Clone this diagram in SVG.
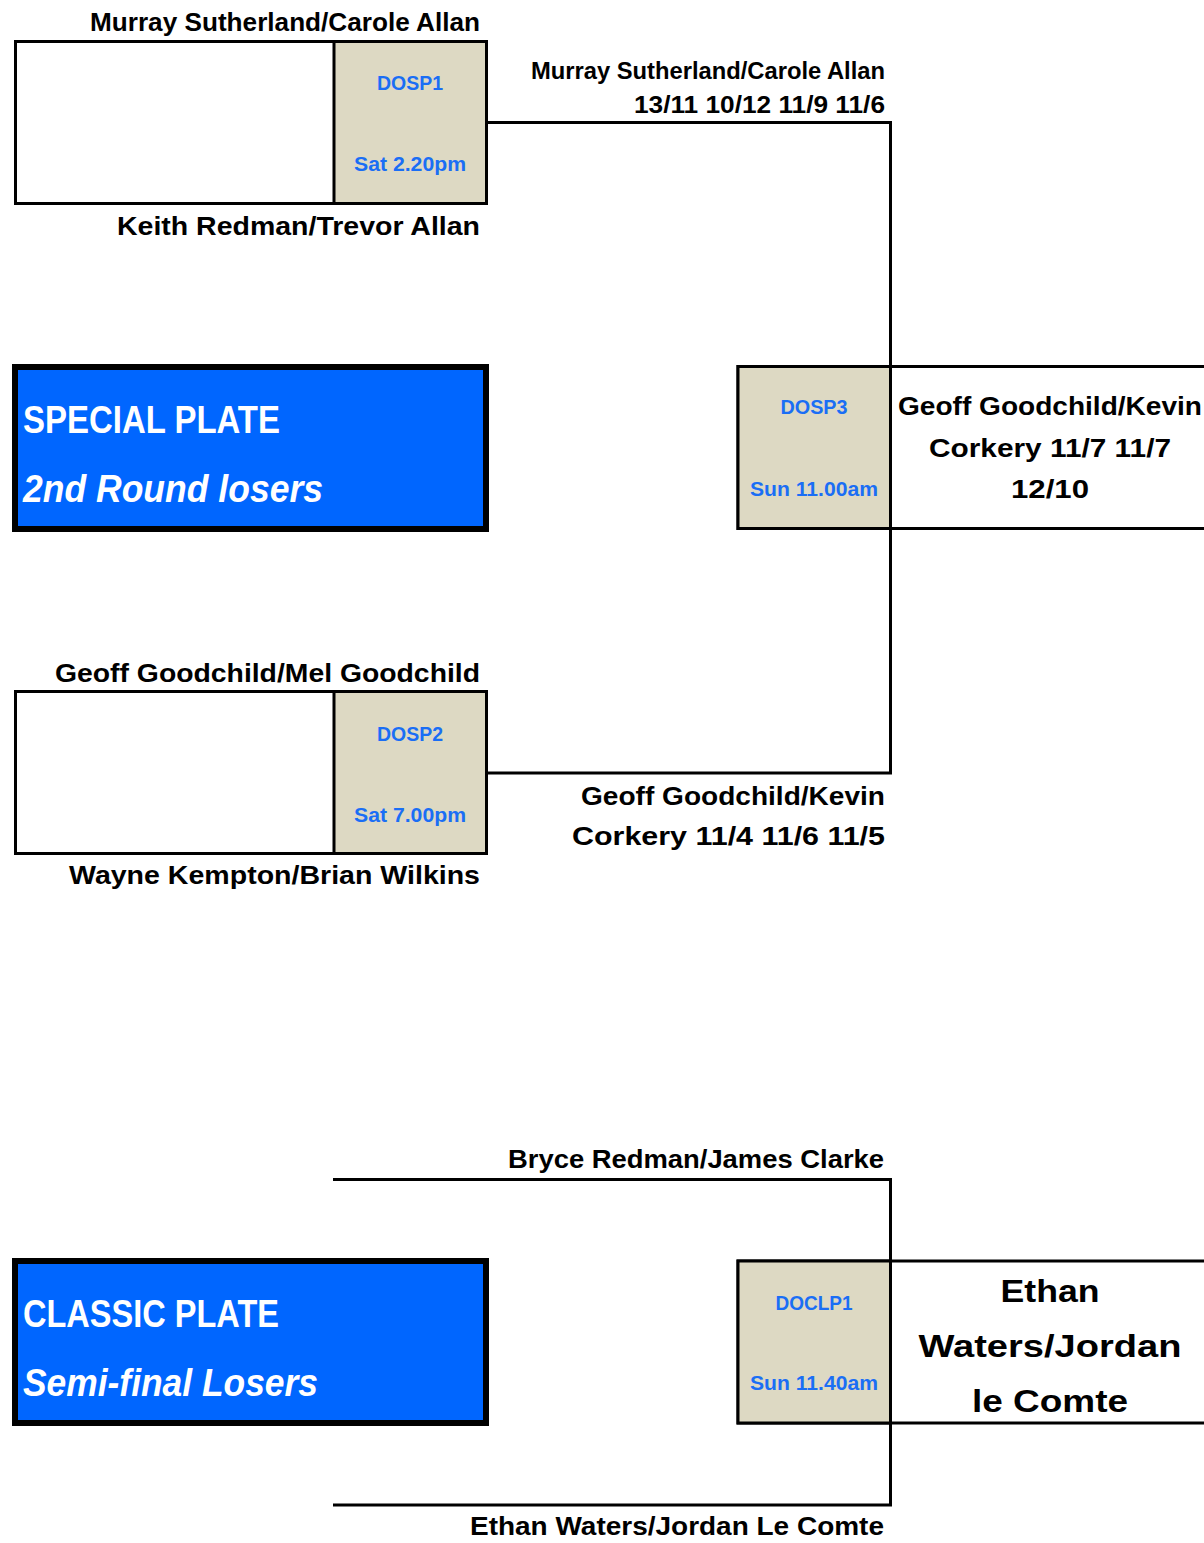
<svg xmlns="http://www.w3.org/2000/svg" width="1204" height="1543" viewBox="0 0 1204 1543">
<style>
text{font-family:"Liberation Sans",Arial,sans-serif;font-weight:bold;fill:#000}
.lbl{font-size:26px}
.res{font-size:23.5px}
.code{font-size:21px;fill:#1a6ef5}
.win{font-size:26px}
.big{font-size:32px}
.plate{font-size:38px;fill:#fff}
.it{font-style:italic}
.box{fill:#fff;stroke:#000;stroke-width:3}
.tan{fill:#ddd9c3;stroke:#000;stroke-width:3}
.blue{fill:#0066ff;stroke:#000;stroke-width:6}
.conn{fill:none;stroke:#000;stroke-width:3}
</style>
<rect width="1204" height="1543" fill="#fff"/>
<g id="connectors">
<polyline class="conn" points="487,122.5 890.5,122.5 890.5,367"/>
<polyline class="conn" points="890.5,529 890.5,773 487,773"/>
<polyline class="conn" points="333,1179.5 890.5,1179.5 890.5,1261"/>
<polyline class="conn" points="890.5,1422 890.5,1505 333,1505"/>
</g>
<g id="DOSP1">
<rect class="box" x="15.5" y="41.5" width="471" height="162"/>
<rect class="tan" x="334" y="41.5" width="152.5" height="162"/>
<text class="code" x="410" y="90" text-anchor="middle" textLength="66" lengthAdjust="spacingAndGlyphs">DOSP1</text>
<text class="code" x="410" y="171" text-anchor="middle" textLength="112" lengthAdjust="spacingAndGlyphs">Sat 2.20pm</text>
<text class="lbl" x="480" y="31" text-anchor="end" textLength="390" lengthAdjust="spacingAndGlyphs">Murray Sutherland/Carole Allan</text>
<text class="lbl" x="480" y="235" text-anchor="end" textLength="363" lengthAdjust="spacingAndGlyphs">Keith Redman/Trevor Allan</text>
</g>
<g id="DOSP1-result">
<text class="res" x="885" y="79" text-anchor="end" textLength="354" lengthAdjust="spacingAndGlyphs">Murray Sutherland/Carole Allan</text>
<text class="res" x="885" y="113" text-anchor="end" textLength="251" lengthAdjust="spacingAndGlyphs">13/11 10/12 11/9 11/6</text>
</g>
<g id="special-plate">
<rect class="blue" x="15" y="367" width="471" height="162"/>
<text class="plate" x="23" y="433" textLength="257" lengthAdjust="spacingAndGlyphs">SPECIAL PLATE</text>
<text class="plate it" x="23" y="502" textLength="300" lengthAdjust="spacingAndGlyphs">2nd Round losers</text>
</g>
<g id="DOSP3">
<rect class="box" x="738" y="366.5" width="480" height="162"/>
<rect class="tan" x="738" y="366.5" width="152.5" height="162"/>
<text class="code" x="814" y="414" text-anchor="middle" textLength="67" lengthAdjust="spacingAndGlyphs">DOSP3</text>
<text class="code" x="814" y="496" text-anchor="middle" textLength="128" lengthAdjust="spacingAndGlyphs">Sun 11.00am</text>
<text class="win" x="1050" y="415" text-anchor="middle" textLength="304" lengthAdjust="spacingAndGlyphs">Geoff Goodchild/Kevin</text>
<text class="win" x="1050" y="457" text-anchor="middle" textLength="242" lengthAdjust="spacingAndGlyphs">Corkery 11/7 11/7</text>
<text class="win" x="1050" y="498" text-anchor="middle" textLength="78" lengthAdjust="spacingAndGlyphs">12/10</text>
</g>
<g id="DOSP2">
<rect class="box" x="15.5" y="691.5" width="471" height="162"/>
<rect class="tan" x="334" y="691.5" width="152.5" height="162"/>
<text class="code" x="410" y="741" text-anchor="middle" textLength="66" lengthAdjust="spacingAndGlyphs">DOSP2</text>
<text class="code" x="410" y="822" text-anchor="middle" textLength="112" lengthAdjust="spacingAndGlyphs">Sat 7.00pm</text>
<text class="lbl" x="480" y="682" text-anchor="end" textLength="425" lengthAdjust="spacingAndGlyphs">Geoff Goodchild/Mel Goodchild</text>
<text class="lbl" x="480" y="884" text-anchor="end" textLength="411" lengthAdjust="spacingAndGlyphs">Wayne Kempton/Brian Wilkins</text>
</g>
<g id="DOSP2-result">
<text class="win" x="885" y="805" text-anchor="end" textLength="304" lengthAdjust="spacingAndGlyphs">Geoff Goodchild/Kevin</text>
<text class="win" x="885" y="845" text-anchor="end" textLength="313" lengthAdjust="spacingAndGlyphs">Corkery 11/4 11/6 11/5</text>
</g>
<g id="classic-plate">
<rect class="blue" x="15" y="1261" width="471" height="162"/>
<text class="plate" x="23" y="1327" textLength="256" lengthAdjust="spacingAndGlyphs">CLASSIC PLATE</text>
<text class="plate it" x="23" y="1396" textLength="295" lengthAdjust="spacingAndGlyphs">Semi-final Losers</text>
</g>
<g id="classic-entrants">
<text class="lbl" x="884" y="1168" text-anchor="end" textLength="376" lengthAdjust="spacingAndGlyphs">Bryce Redman/James Clarke</text>
<text class="lbl" x="884" y="1535" text-anchor="end" textLength="414" lengthAdjust="spacingAndGlyphs">Ethan Waters/Jordan Le Comte</text>
</g>
<g id="DOCLP1">
<rect class="box" x="738" y="1261" width="480" height="162"/>
<rect class="tan" x="738" y="1261" width="152.5" height="162"/>
<text class="code" x="814" y="1310" text-anchor="middle" textLength="77" lengthAdjust="spacingAndGlyphs">DOCLP1</text>
<text class="code" x="814" y="1390" text-anchor="middle" textLength="128" lengthAdjust="spacingAndGlyphs">Sun 11.40am</text>
<text class="big" x="1050" y="1302" text-anchor="middle" textLength="99" lengthAdjust="spacingAndGlyphs">Ethan</text>
<text class="big" x="1050" y="1357" text-anchor="middle" textLength="263" lengthAdjust="spacingAndGlyphs">Waters/Jordan</text>
<text class="big" x="1050" y="1412" text-anchor="middle" textLength="156" lengthAdjust="spacingAndGlyphs">le Comte</text>
</g>
</svg>
